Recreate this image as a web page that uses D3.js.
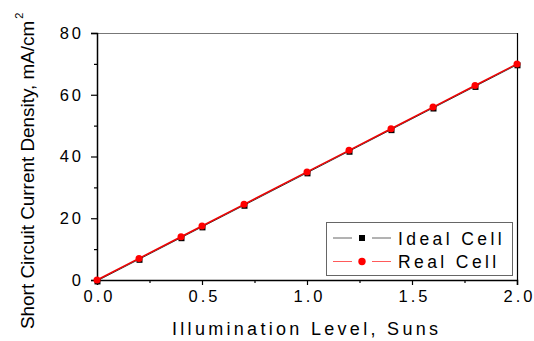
<!DOCTYPE html>
<html>
<head>
<meta charset="utf-8">
<script src="https://cdn.jsdelivr.net/npm/d3@7/dist/d3.min.js"></script>
<style>
  html, body { margin: 0; padding: 0; background: #fff; }
  svg { display: block; font-family: "Liberation Sans", Arial, sans-serif; }
</style>
</head>
<body>
<svg id="chart" width="534" height="341"></svg>
<script>
// Illumination level (suns) and short-circuit current density (mA/cm^2)
const suns = [0.0, 0.2, 0.4, 0.5, 0.7, 1.0, 1.2, 1.4, 1.6, 1.8, 2.0];
const idealCell = [-0.3, 6.7, 13.7, 17.2, 24.2, 34.7, 41.7, 48.7, 55.7, 62.7, 69.7];
const realCell = [0, 7, 14, 17.5, 24.5, 35, 42, 49, 56, 63, 70];

const xTicks = [0.0, 0.5, 1.0, 1.5, 2.0];
const xMinorTicks = [0.25, 0.75, 1.25, 1.75];
const yTicks = [0, 20, 40, 60, 80];
const yMinorTicks = [10, 30, 50, 70];

const seriesNames = ["Ideal Cell", "Real Cell"];

const svg = d3.select("#chart");
const plot = { left: 97, right: 517, top: 33, bottom: 280 };

const x = d3.scaleLinear().domain([0, 2]).range([plot.left, plot.right]);
const y = d3.scaleLinear().domain([0, 80]).range([plot.bottom, plot.top]);

// frame: top edge gray, right edge black
svg.append("line").attr("x1", plot.left).attr("x2", plot.right)
  .attr("y1", plot.top + 0.5).attr("y2", plot.top + 0.5)
  .attr("stroke", "#777").attr("stroke-width", 1.2);
svg.append("line").attr("x1", plot.right + 0.5).attr("x2", plot.right + 0.5)
  .attr("y1", plot.top).attr("y2", plot.bottom)
  .attr("stroke", "#000").attr("stroke-width", 1.2);

// bottom axis
const xAxis = svg.append("g").attr("transform", `translate(0,${plot.bottom})`)
  .call(d3.axisBottom(x).tickValues(xTicks).tickFormat(d3.format(".1f")).tickSize(5).tickPadding(5));
svg.append("g").attr("transform", `translate(0,${plot.bottom})`)
  .call(d3.axisBottom(x).tickValues(xMinorTicks).tickFormat("").tickSize(3))
  .select(".domain").remove();

// left axis
const yAxis = svg.append("g").attr("transform", `translate(${plot.left},0)`)
  .call(d3.axisLeft(y).tickValues(yTicks).tickSize(6).tickPadding(8));
svg.append("g").attr("transform", `translate(${plot.left},0)`)
  .call(d3.axisLeft(y).tickValues(yMinorTicks).tickFormat("").tickSize(3))
  .select(".domain").remove();

svg.selectAll(".domain").attr("stroke", "#000").attr("stroke-width", 1.5);
svg.selectAll(".tick line").attr("stroke", "#000").attr("stroke-width", 1.2);
svg.selectAll(".tick text")
  .attr("fill", "#000")
  .style("font-size", "16.5px")
  .style("letter-spacing", "3px");
xAxis.selectAll(".tick text").attr("dx", "2px");
yAxis.selectAll(".tick text").attr("dx", "1px");

// axis titles
svg.append("text")
  .attr("x", 172).attr("y", 335)
  .style("font-size", "18px")
  .style("letter-spacing", "3.3px")
  .attr("fill", "#000")
  .text("Illumination Level, Suns");

const yTitle = svg.append("text")
  .attr("transform", "translate(34,329) rotate(-90)")
  .style("font-size", "18.9px")
  .attr("fill", "#000");
yTitle.append("tspan").text("Short Circuit Current Density, mA/cm");
yTitle.append("tspan").attr("dy", "-11").attr("dx", "2").style("font-size", "11px").text("2");

// series
const idealPts = suns.map((s, i) => [s, idealCell[i]]);
const realPts = suns.map((s, i) => [s, realCell[i]]);
const line = d3.line().x(d => x(d[0])).y(d => y(d[1]));

svg.append("path").datum(idealPts).attr("d", line)
  .attr("fill", "none").attr("stroke", "#333").attr("stroke-width", 1);
svg.selectAll("rect.ideal").data(idealPts).enter().append("rect")
  .attr("class", "ideal")
  .attr("x", d => x(d[0]) - 2.5).attr("y", d => y(d[1]) - 2.5)
  .attr("width", 6).attr("height", 6).attr("fill", "#000");

svg.append("path").datum(realPts).attr("d", line)
  .attr("fill", "none").attr("stroke", "#e00").attr("stroke-width", 1.5);
svg.selectAll("circle.real").data(realPts).enter().append("circle")
  .attr("class", "real")
  .attr("cx", d => x(d[0])).attr("cy", d => y(d[1]))
  .attr("r", 3.5).attr("fill", "#f00");

// legend
const lg = svg.append("g");
lg.append("rect").attr("x", 326.5).attr("y", 222.5).attr("width", 186).attr("height", 53)
  .attr("fill", "#fff").attr("stroke", "#666").attr("stroke-width", 1);

const legendRows = [
  { name: seriesNames[0], color: "#666", cy: 238 },
  { name: seriesNames[1], color: "#ff5a5a", cy: 261.5 }
];
legendRows.forEach((r, i) => {
  lg.append("line").attr("x1", 333).attr("x2", 352).attr("y1", r.cy).attr("y2", r.cy)
    .attr("stroke", r.color).attr("stroke-width", 1);
  lg.append("line").attr("x1", 372).attr("x2", 391).attr("y1", r.cy).attr("y2", r.cy)
    .attr("stroke", r.color).attr("stroke-width", 1);
  if (i === 0) {
    lg.append("rect").attr("x", 359).attr("y", r.cy - 3).attr("width", 6).attr("height", 6).attr("fill", "#000");
  } else {
    lg.append("circle").attr("cx", 362).attr("cy", r.cy).attr("r", 3.7).attr("fill", "#f00");
  }
  lg.append("text").attr("x", 398).attr("y", r.cy + 6.5)
    .style("font-size", "17.5px").style("letter-spacing", "3.4px")
    .attr("fill", "#000").text(r.name);
});
</script>
</body>
</html>
